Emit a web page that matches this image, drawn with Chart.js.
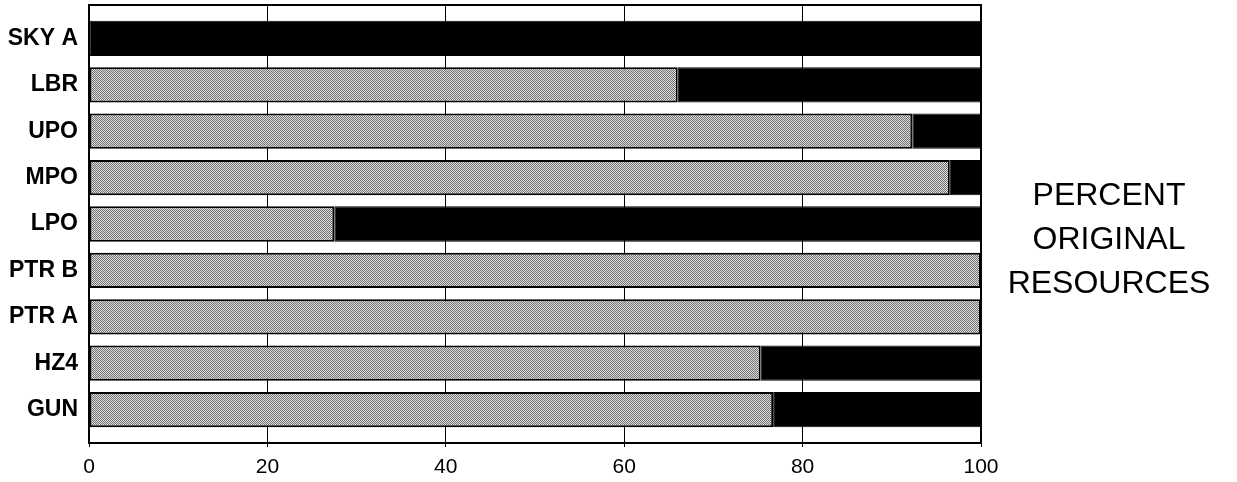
<!DOCTYPE html>
<html>
<head>
<meta charset="utf-8">
<script src="https://cdn.jsdelivr.net/npm/chart.js@4/dist/chart.umd.min.js"></script>
<style>
  body { margin: 0; background: #fff; }
  #wrap { position: relative; width: 1237px; height: 482px; }
  #sideTitle {
    position: absolute; left: 981px; top: 172px; width: 256px;
    text-align: center; font: 32px "Liberation Sans", Arial, sans-serif;
    line-height: 44px; color: #000;
  }
</style>
</head>
<body>
<div id="wrap">
  <canvas id="resChart" width="1237" height="482"></canvas>
  <div id="sideTitle">PERCENT<br>ORIGINAL<br>RESOURCES</div>
</div>
<script>
var categories = ['SKY A', 'LBR', 'UPO', 'MPO', 'LPO', 'PTR B', 'PTR A', 'HZ4', 'GUN'];
var remaining = [0, 66, 92.3, 96.5, 27.5, 100, 100, 75.3, 76.7];
var lost = [100, 34, 7.7, 3.5, 72.5, 0, 0, 24.7, 23.3];
var xTicks = [0, 20, 40, 60, 80, 100];

// stipple fill like the scanned grey
function stipple() {
  var c = document.createElement('canvas');
  c.width = 2; c.height = 2;
  var g = c.getContext('2d');
  g.fillStyle = '#dedede';
  g.fillRect(0, 0, 2, 2);
  g.fillStyle = '#707070';
  g.fillRect(0, 0, 1, 1);
  g.fillRect(1, 1, 1, 1);
  return g.createPattern(c, 'repeat');
}

function points(arr) {
  return arr.map(function (v, i) { return { x: v, y: i }; });
}

var boxPlugin = {
  id: 'box',
  afterDraw: function (chart) {
    var a = chart.chartArea, ctx = chart.ctx;
    ctx.save();
    ctx.strokeStyle = '#000';
    ctx.lineWidth = 2;
    ctx.strokeRect(a.left, a.top, a.right - a.left, a.bottom - a.top);
    ctx.restore();
  }
};

var ctx = document.getElementById('resChart').getContext('2d');
new Chart(ctx, {
  type: 'bar',
  data: {
    datasets: [{
      label: 'Remaining',
      data: points(remaining),
      backgroundColor: stipple(),
      borderColor: '#000',
      borderWidth: 2,
      borderSkipped: false
    }, {
      label: 'Lost',
      data: points(lost),
      backgroundColor: '#000',
      borderColor: '#000',
      borderWidth: 1,
      borderSkipped: false
    }]
  },
  options: {
    indexAxis: 'y',
    responsive: false,
    animation: false,
    barPercentage: 0.76,
    categoryPercentage: 1,
    layout: { padding: { top: 5, right: 256, left: 0, bottom: 0 } },
    plugins: { legend: { display: false }, tooltip: { enabled: false } },
    scales: {
      x: {
        type: 'linear',
        stacked: true,
        min: 0,
        max: 100,
        afterBuildTicks: function (s) { s.ticks = xTicks.map(function (v) { return { value: v }; }); },
        afterFit: function (s) { s.height = 39; s.paddingLeft = 0; s.paddingRight = 0; },
        grid: { color: '#000', lineWidth: 1, tickLength: 4, drawOnChartArea: true },
        border: { display: false },
        ticks: { color: '#000', padding: 8, font: { family: '"Liberation Sans", Arial, sans-serif', size: 21 } }
      },
      y: {
        type: 'linear',
        stacked: true,
        reverse: true,
        offset: false,
        min: -0.72,
        max: 8.72,
        afterBuildTicks: function (s) { s.ticks = categories.map(function (c, i) { return { value: i }; }); },
        afterFit: function (s) { s.width = 89; s.paddingTop = 0; s.paddingBottom = 0; },
        grid: { display: false, offset: false },
        border: { display: false },
        ticks: {
          color: '#000',
          padding: 3,
          font: { family: '"Liberation Sans", Arial, sans-serif', size: 23, weight: 'bold' },
          callback: function (v) { return categories[v]; }
        }
      }
    }
  },
  plugins: [boxPlugin]
});
</script>
</body>
</html>
